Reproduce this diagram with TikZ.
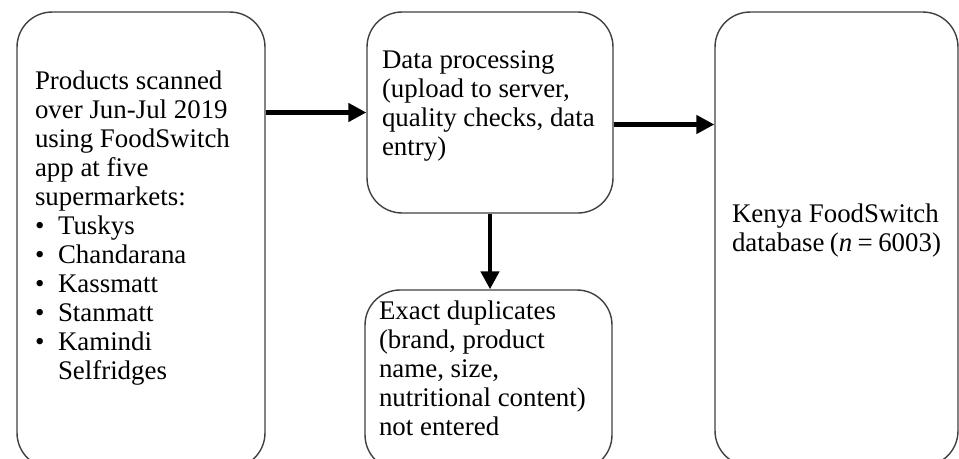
\documentclass[tikz,border=0pt]{standalone}
\usepackage{fontspec}
\setmainfont{Liberation Serif}
\usetikzlibrary{positioning,arrows.meta,calc}
\tikzset{
  stage/.style={draw=black!75, line width=0.8pt, rounded corners=0.7cm,
    align=flush left, inner ysep=0pt, font=\fontsize{15.3}{16.5}\selectfont},
  flow/.style={line width=2.8pt, draw=black,
    -{Triangle[length=0.36cm,width=0.36cm]}}
}
\newcommand{\shopitem}[1]{\makebox[0.46cm][l]{\textbullet}#1}

\begin{document}
\begin{tikzpicture}[x=0.02cm,y=-0.02cm]
  \useasboundingbox (0,0) rectangle (959,459);
  \clip (0,0) rectangle (959,459);
  \node[stage, text width=4.24cm, inner xsep=0.36cm, minimum height=9.12cm, text depth=6.4cm] (scan) at (141,240)
    {Products scanned\\ over Jun-Jul 2019\\ using FoodSwitch\\ app at five\\ supermarkets:\\
     \shopitem{Tuskys}\\ \shopitem{Chandarana}\\ \shopitem{Kassmatt}\\ \shopitem{Stanmatt}\\
     \shopitem{Kamindi}\\ \hspace*{0.46cm}Selfridges};
  \node[stage, text width=4.32cm, inner xsep=0.3cm, minimum height=4.02cm, text depth=2.12cm] (proc) at (490,112.5)
    {Data processing\\ (upload to server,\\ quality~checks,~data\\ entry)};
  \node[stage, text width=4.38cm, inner xsep=0.28cm, minimum height=3.6cm, text depth=2.8cm] (dup) at (488.5,380)
    {Exact duplicates\\ (brand, product\\ name, size,\\ nutritional~content)\\ not entered};
  \node[stage, text width=4.18cm, inner xsep=0.34cm, minimum height=9.08cm, text depth=1.04cm] (db) at (836.5,239)
    {Kenya FoodSwitch\\ database~(\textit{n}~=~6003)};
  % arrows between the stages
  \draw[flow] (scan.east |- proc.west) -- (proc.west);
  \draw[flow] ($(proc.east)+(0,12)$) coordinate (out) -- (out -| db.west);
  \draw[flow] (proc.south) -- (proc.south |- dup.north);
\end{tikzpicture}
\end{document}
